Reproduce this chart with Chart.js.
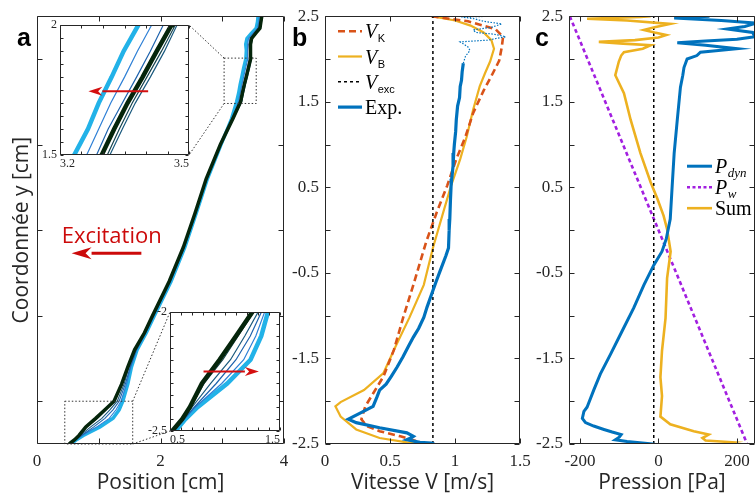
<!DOCTYPE html>
<html>
<head>
<meta charset="utf-8">
<script src="https://cdn.jsdelivr.net/npm/chart.js@4"></script>
<style>
  html, body { margin: 0; padding: 0; background: #fff; }
  #fig { position: relative; width: 756px; height: 499px; overflow: hidden; }
  #fig canvas { position: absolute; }
</style>
</head>
<body>
<div id="fig"></div>
<script>
// ---------- panel a : profiles y -> x (cm)
const yA = [-2.5, -2.45, -2.4, -2.3, -2.2, -2.1, -2.0, -1.8, -1.6, -1.4, -1.2, -1.0, -0.6, -0.2, 0.2, 0.6, 1.0, 1.3,
  1.5, 1.6, 1.7, 1.8, 1.9, 2.0, 2.1, 2.17, 2.24, 2.3, 2.36, 2.43, 2.5];
const xDark = [0.52, 0.61, 0.68, 0.79, 0.95, 1.10, 1.247, 1.37, 1.47, 1.58, 1.74, 1.87, 2.14, 2.37, 2.56, 2.74, 2.97, 3.17,
  3.297, 3.326, 3.357, 3.392, 3.425, 3.459, 3.46, 3.455, 3.475, 3.54, 3.61, 3.625, 3.64];
const xMid1 = [0.52, 0.61, 0.69, 0.81, 0.98, 1.12, 1.26, 1.38, 1.48, 1.59, 1.745, 1.875, 2.145, 2.375, 2.56, 2.74, 2.97, 3.175,
  3.31, 3.338, 3.368, 3.402, 3.436, 3.468, 3.47, 3.462, 3.48, 3.545, 3.615, 3.63, 3.645];
const xMid2 = [0.53, 0.62, 0.70, 0.87, 1.05, 1.18, 1.30, 1.41, 1.49, 1.60, 1.75, 1.88, 2.15, 2.38, 2.565, 2.745, 2.975, 3.18,
  3.316, 3.345, 3.375, 3.41, 3.443, 3.472, 3.475, 3.468, 3.485, 3.55, 3.62, 3.635, 3.65];
const xMid3 = [0.53, 0.63, 0.72, 0.92, 1.10, 1.23, 1.33, 1.43, 1.51, 1.61, 1.76, 1.89, 2.16, 2.385, 2.57, 2.75, 2.97, 3.16,
  3.285, 3.312, 3.345, 3.378, 3.41, 3.44, 3.44, 3.43, 3.45, 3.52, 3.59, 3.61, 3.625];
const xMid4 = [0.54, 0.63, 0.73, 0.97, 1.17, 1.28, 1.36, 1.45, 1.52, 1.615, 1.765, 1.895, 2.165, 2.39, 2.575, 2.755, 2.975, 3.155,
  3.262, 3.29, 3.318, 3.35, 3.38, 3.413, 3.415, 3.405, 3.425, 3.495, 3.57, 3.59, 3.60];
const xLight = [0.55, 0.64, 0.75, 1.02, 1.232, 1.33, 1.39, 1.47, 1.53, 1.62, 1.77, 1.90, 2.17, 2.395, 2.58, 2.76, 2.98, 3.15,
  3.233, 3.265, 3.29, 3.32, 3.348, 3.382, 3.39, 3.38, 3.40, 3.47, 3.55, 3.57, 3.58];

const xTicksA = [0, 1, 2, 3, 4];
const xLabelsA = ['0', '', '2', '', '4'];
const yTicksA = [-2, -1, 0, 1, 2];
const yLabelsA = ['', '', '', '', ''];

// insets of panel a
const xTicksTop = [3.2, 3.25, 3.3, 3.35, 3.4, 3.45, 3.5];
const xLabelsTop = ['3.2', '', '', '', '', '', '3.5'];
const yTicksTop = [1.5, 1.55, 1.6, 1.65, 1.7, 1.75, 1.8, 1.85, 1.9, 1.95, 2.0];
const yLabelsTop = ['1.5', '', '', '', '', '', '', '', '', '', '2'];
const xTicksLow = [0.5, 0.6, 0.7, 0.8, 0.9, 1.0, 1.1, 1.2, 1.3, 1.4, 1.5];
const xLabelsLow = ['0.5', '', '', '', '', '', '', '', '', '', '1.5'];
const yTicksLow = [-2.5, -2.45, -2.4, -2.35, -2.3, -2.25, -2.2, -2.15, -2.1, -2.05, -2.0];
const yLabelsLow = ['-2.5', '', '', '', '', '', '', '', '', '', '-2'];

// ---------- panel b : velocity (m/s)
const yK = [2.5, 2.44, 2.35, 2.26, 2.14, 1.98, 1.83, 1.63, 1.37, 1.09, 0.83, 0.52, 0.21, -0.13, -0.25, -0.64, -1.03, -1.40,
  -1.71, -1.91, -2.06, -2.21, -2.29, -2.35, -2.41, -2.48, -2.5];
const vK = [0.82, 1.10, 1.31, 1.37, 1.36, 1.34, 1.29, 1.22, 1.14, 1.08, 1.01, 0.94, 0.86, 0.78, 0.756, 0.68, 0.60, 0.53,
  0.45, 0.37, 0.31, 0.28, 0.32, 0.42, 0.58, 0.73, 0.78];
const yB = [2.5, 2.45, 2.39, 2.31, 2.22, 2.12, 1.97, 1.83, 1.68, 1.41, 1.09, 0.83, 0.52, 0.21, -0.21, -0.64, -1.02, -1.37,
  -1.67, -1.87, -2.01, -2.06, -2.18, -2.33, -2.43, -2.48, -2.5];
const vB = [0.82, 1.0, 1.12, 1.22, 1.28, 1.30, 1.27, 1.23, 1.19, 1.14, 1.09, 1.04, 0.97, 0.91, 0.83, 0.76, 0.65, 0.54,
  0.45, 0.30, 0.12, 0.08, 0.12, 0.24, 0.42, 0.63, 0.78];
const yExp = [1.95, 1.85, 1.75, 1.68, 1.55, 1.45, 1.29, 1.15, 1.0, 0.9, 0.75, 0.6, 0.52, 0.35, 0.13, 0.0, -0.21, -0.3,
  -0.48, -0.6, -0.75, -0.9, -1.02, -1.15, -1.25, -1.35, -1.48, -1.6, -1.71, -1.8, -1.87, -1.95, -2.06, -2.14, -2.21,
  -2.25, -2.31, -2.37, -2.41, -2.43, -2.45, -2.48, -2.49, -2.5];
const vExp = [1.064, 1.055, 1.05, 1.04, 1.035, 1.02, 1.01, 1.005, 0.995, 0.99, 0.985, 0.975, 0.97, 0.965, 0.96, 0.955,
  0.95, 0.93, 0.885, 0.855, 0.82, 0.785, 0.76, 0.72, 0.68, 0.645, 0.60, 0.555, 0.51, 0.47, 0.42, 0.40, 0.37, 0.27, 0.18,
  0.24, 0.42, 0.63, 0.68, 0.66, 0.63, 0.73, 0.82, 0.84];
const yExpTop = [1.95, 2.03, 2.10, 2.14, 2.18, 2.20, 2.22, 2.26, 2.29, 2.31, 2.34, 2.37, 2.41, 2.44, 2.47, 2.49, 2.5];
const vExpTop = [1.064, 1.08, 1.115, 1.10, 1.06, 1.04, 1.25, 1.39, 1.30, 1.16, 1.14, 1.28, 1.36, 1.22, 1.15, 1.05, 1.30];
const vExc = 0.83;

const xTicksB = [0, 0.5, 1, 1.5];
const xLabelsB = ['0', '0.5', '1', '1.5'];
const yTicksBC = [-2.5, -2, -1.5, -1, -0.5, 0, 0.5, 1, 1.5, 2, 2.5];
const yLabelsBC = ['-2.5', '', '-1.5', '', '-0.5', '', '0.5', '', '1.5', '', '2.5'];

// ---------- panel c : pressure (Pa)
const yDyn = [-2.5, -2.49, -2.47, -2.45, -2.42, -2.39, -2.36, -2.33, -2.29, -2.25, -2.2, -2.12, -2.07, -1.87, -1.68, -1.45,
  -1.22, -0.91, -0.64, -0.41, -0.25, -0.1, 0.13, 0.52, 0.9, 1.29, 1.67, 1.81, 1.9, 2.0, 2.04, 2.08, 2.12, 2.16, 2.19,
  2.21, 2.23, 2.26, 2.31, 2.35, 2.38, 2.42, 2.45, 2.48, 2.5];
const pDyn = [-50, -37, -80, -110, -100, -95, -118, -139, -165, -186, -194, -190, -182, -165, -148, -122,
  -97, -63, -37, -12, 9, 20, 30, 35, 40, 48, 56, 62, 65, 73, 98, 107, 200, 120, 48,
  120, 200, 245, 240, 175, 220, 250, 160, 40, 130];
const ySum = [-2.49, -2.48, -2.46, -2.43, -2.39, -2.35, -2.27, -2.18, -1.94, -1.72, -1.41, -1.03, -0.56, -0.25, 0.01, 0.17,
  0.37, 0.56, 0.9, 1.29, 1.6, 1.81, 1.97, 2.04, 2.08, 2.12, 2.16, 2.18, 2.2, 2.22, 2.25, 2.28, 2.31, 2.34, 2.37, 2.41,
  2.45, 2.47, 2.49, 2.5];
const pSum = [175, 188, 120, 112, 128, 90, 30, 5, 9, 5, 9, 18, 22, 31, 22, 13,
  -3, -20, -46, -71, -88, -110, -101, -95, -88, -40, -20, -90, -152, -60, 0, 20, -10, -37, -10, 30,
  -80, -182, -46, -20];
const yPw = [2.5, 0, -2.5];
const pPw = [-226, 0, 226];
const pRef = -12;

const xTicksC = [-200, 0, 200];
const xLabelsC = ['-200', '0', '200'];

// ---------- helpers
const ink = '#262626';
const serif = s => ({ family: "'Liberation Serif', 'DejaVu Serif', serif", size: s });
const sans = s => ({ family: "'Open Sans', 'DejaVu Sans', sans-serif", size: s });
const pts = (xs, ys) => xs.map((x, i) => ({ x, y: ys[i] }));
const line = (data, color, width, dash) => ({
  data, borderColor: color, borderWidth: width, borderDash: dash || [],
  showLine: true, pointRadius: 0, fill: false
});
const fig = document.getElementById('fig');

// MATLAB style box with inward ticks
const frame = {
  id: 'frame',
  defaults: { len: 5, color: ink },
  afterDatasetsDraw(chart, args, o) {
    const { ctx, chartArea: a, scales: { x, y } } = chart;
    const L = Math.round(a.left) + 0.5, R = Math.round(a.right) - 0.5;
    const T = Math.round(a.top) + 0.5, B = Math.round(a.bottom) - 0.5;
    ctx.save();
    ctx.setLineDash([]);
    ctx.strokeStyle = o.color;
    ctx.lineWidth = 1;
    ctx.beginPath();
    ctx.rect(L, T, R - L, B - T);
    x.ticks.forEach(t => {
      const p = Math.round(x.getPixelForValue(t.value)) + 0.5;
      ctx.moveTo(p, B); ctx.lineTo(p, B - o.len);
      ctx.moveTo(p, T); ctx.lineTo(p, T + o.len);
    });
    y.ticks.forEach(t => {
      const p = Math.round(y.getPixelForValue(t.value)) + 0.5;
      ctx.moveTo(L, p); ctx.lineTo(L + o.len, p);
      ctx.moveTo(R, p); ctx.lineTo(R - o.len, p);
    });
    ctx.stroke();
    ctx.restore();
  }
};

const whiteBg = {
  id: 'whiteBg',
  beforeDraw(chart) {
    const { ctx, chartArea: a } = chart;
    ctx.save();
    ctx.fillStyle = '#fff';
    ctx.fillRect(a.left, a.top, a.right - a.left, a.bottom - a.top);
    ctx.restore();
  }
};

function axis(min, max, vals, labels, fontSize, pad, extra, align) {
  return Object.assign({
    type: 'linear', min, max,
    afterBuildTicks: s => { s.ticks = vals.map(v => ({ value: v })); },
    grid: { display: false, drawTicks: false },
    border: { display: false },
    ticks: {
      autoSkip: false, maxRotation: 0, padding: pad, color: ink, align: align || 'center',
      font: serif(fontSize), callback: (v, i) => labels[i]
    }
  }, extra);
}

// box = chart area in page pixels
function makeChart(box, yW, xH, padTop, padRight, datasets, scales, plugins, frameLen) {
  const c = document.createElement('canvas');
  const w = box.r - box.l + yW + padRight, h = box.b - box.t + padTop + xH;
  c.width = w; c.height = h;
  c.style.left = (box.l - yW) + 'px';
  c.style.top = (box.t - padTop) + 'px';
  fig.appendChild(c);
  scales.y.afterFit = s => { s.width = yW; };
  scales.x.afterFit = s => { s.height = xH; };
  return new Chart(c, {
    type: 'scatter',
    data: { datasets },
    options: {
      responsive: false, animation: false, devicePixelRatio: 1,
      layout: { padding: { top: padTop, right: padRight, left: 0, bottom: 0 } },
      scales,
      plugins: { legend: { display: false }, tooltip: { enabled: false }, frame: { len: frameLen } }
    },
    plugins: [frame].concat(plugins)
  });
}

function arrow(ctx, x1, y1, x2, y2, lw, head, half) {
  const ang = Math.atan2(y2 - y1, x2 - x1);
  const bx = x2 - head * Math.cos(ang), by = y2 - head * Math.sin(ang);
  ctx.beginPath();
  ctx.lineWidth = lw;
  ctx.moveTo(x1, y1); ctx.lineTo(bx, by); ctx.stroke();
  ctx.beginPath();
  ctx.moveTo(x2, y2);
  ctx.lineTo(bx - half * Math.sin(ang), by + half * Math.cos(ang));
  ctx.lineTo(bx + head * 0.3 * Math.cos(ang), by + head * 0.3 * Math.sin(ang));
  ctx.lineTo(bx + half * Math.sin(ang), by - half * Math.cos(ang));
  ctx.closePath(); ctx.fill();
}

function letter(txt, dx) {
  return {
    id: 'letter_' + txt,
    afterDraw(chart) {
      const { ctx, chartArea: a } = chart;
      ctx.save();
      ctx.font = "bold 25px 'Liberation Sans', Arial, sans-serif";
      ctx.fillStyle = '#000';
      ctx.textBaseline = 'alphabetic';
      ctx.fillText(txt, a.left + dx, a.top + 30);
      ctx.restore();
    }
  };
}

function legendPlugin(id, items, dx, dy, step, len) {
  return {
    id,
    afterDraw(chart) {
      const { ctx, chartArea: a } = chart;
      ctx.save();
      items.forEach((it, i) => {
        const y = a.top + dy + i * step, x = a.left + dx;
        ctx.beginPath();
        ctx.setLineDash(it.dash || []);
        ctx.lineWidth = it.width;
        ctx.strokeStyle = it.color;
        ctx.moveTo(x, y); ctx.lineTo(x + len, y); ctx.stroke();
        ctx.setLineDash([]);
        ctx.fillStyle = '#000';
        ctx.textBaseline = 'alphabetic';
        ctx.font = it.font;
        ctx.fillText(it.text, x + len + 3, y + 7);
        if (it.sub) {
          const w = ctx.measureText(it.text).width;
          ctx.font = it.subFont;
          ctx.fillText(it.sub, x + len + 3 + w + 0.5, y + 11);
        }
      });
      ctx.restore();
    }
  };
}

// ---------- layout (page pixels)
const boxA = { l: 37, t: 12, r: 284, b: 444 };
const boxB = { l: 325, t: 12, r: 520, b: 444 };
const boxC = { l: 569, t: 12, r: 755, b: 444 };
const boxTop = { l: 60, t: 25, r: 189, b: 155 };
const boxLow = { l: 170, t: 312, r: 280, b: 431 };

// zoom rectangles in panel a data coordinates
const zoomTop = { x0: 3.03, x1: 3.55, y0: 1.48, y1: 2.01 };
const zoomLow = { x0: 0.45, x1: 1.55, y0: -2.5, y1: -2.0 };

function profiles(thick, thin) {
  return [
    line(pts(xDark, yA), '#05250b', thick),
    line(pts(xMid1, yA), '#17454f', thin),
    line(pts(xMid2, yA), '#1b5a7e', thin),
    line(pts(xMid3, yA), '#1f63ad', thin),
    line(pts(xMid4, yA), '#2f80d6', thin),
    line(pts(xLight, yA), '#22b2e8', thick)
  ];
}

const annotA = {
  id: 'annotA',
  afterDraw(chart) {
    const { ctx, scales: { x, y } } = chart;
    const X = v => x.getPixelForValue(v), Y = v => y.getPixelForValue(v);
    ctx.save();
    ctx.strokeStyle = '#333';
    ctx.lineWidth = 1;
    ctx.setLineDash([1.5, 2]);
    [zoomTop, zoomLow].forEach(z => {
      ctx.strokeRect(X(z.x0), Y(z.y1), X(z.x1) - X(z.x0), Y(z.y0) - Y(z.y1));
    });
    ctx.beginPath();
    ctx.moveTo(X(zoomTop.x0), Y(zoomTop.y1)); ctx.lineTo(boxTop.r, boxTop.t);
    ctx.moveTo(X(zoomTop.x0), Y(zoomTop.y0)); ctx.lineTo(boxTop.r, boxTop.b);
    ctx.moveTo(X(zoomLow.x1), Y(zoomLow.y1)); ctx.lineTo(boxLow.l, boxLow.t);
    ctx.moveTo(X(zoomLow.x1), Y(zoomLow.y0)); ctx.lineTo(boxLow.l, boxLow.b);
    ctx.stroke();
    ctx.setLineDash([]);
    ctx.fillStyle = '#cc0a0a';
    ctx.strokeStyle = '#cc0a0a';
    ctx.font = "22px 'Open Sans', sans-serif";
    ctx.textBaseline = 'middle';
    ctx.fillText('Excitation', X(0.40), Y(-0.075));
    arrow(ctx, X(1.69), Y(-0.27), X(0.56), Y(-0.27), 3, 20, 6);
    ctx.restore();
  }
};

function insetArrow(x1, x2, yv) {
  return {
    id: 'insetArrow',
    afterDraw(chart) {
      const { ctx, scales: { x, y } } = chart;
      ctx.save();
      ctx.fillStyle = '#d40f0f';
      ctx.strokeStyle = '#d40f0f';
      arrow(ctx, x.getPixelForValue(x1), y.getPixelForValue(yv), x.getPixelForValue(x2), y.getPixelForValue(yv), 2, 14, 4.5);
      ctx.restore();
    }
  };
}

const titleFont = sans(21);

// ---------- panel a
makeChart(boxA, 37, 55, 12, 14, profiles(3.5, 1.1), {
  x: axis(0, 4, xTicksA, xLabelsA, 17, 7, {
    title: { display: true, text: 'Position [cm]', font: titleFont, color: ink, padding: { top: 0, bottom: 3 } }
  }),
  y: axis(-2.5, 2.5, yTicksA, yLabelsA, 17, 6, {
    title: { display: true, text: 'Coordonnée y [cm]', font: titleFont, color: ink, padding: { top: 9, bottom: 0 } }
  })
}, [annotA, letter('a', -20)], 5);

// ---------- panel b
makeChart(boxB, 42, 55, 12, 22, [
  line(pts(vExp, yExp), '#0072bd', 3.2),
  line(pts(vExpTop, yExpTop), '#0072bd', 1.2, [1.5, 1.5]),
  line([{ x: vExc, y: -2.5 }, { x: vExc, y: 2.5 }], '#000', 1.5, [3, 3]),
  line(pts(vK, yK), '#d95319', 2.6, [7, 4]),
  line(pts(vB, yB), '#edb120', 2.2)
], {
  x: axis(0, 1.5, xTicksB, xLabelsB, 17, 7, {
    title: { display: true, text: 'Vitesse V [m/s]', font: titleFont, color: ink, padding: { top: 0, bottom: 3 } }
  }),
  y: axis(-2.5, 2.5, yTicksBC, yLabelsBC, 17, 6, {})
}, [letter('b', -33), legendPlugin('legB', [
  { text: 'V', sub: 'K', font: "italic 20px 'Liberation Serif', serif", subFont: "11px 'Liberation Sans', sans-serif", color: '#d95319', width: 2.6, dash: [7, 4] },
  { text: 'V', sub: 'B', font: "italic 20px 'Liberation Serif', serif", subFont: "11px 'Liberation Sans', sans-serif", color: '#edb120', width: 2.2 },
  { text: 'V', sub: 'exc', font: "italic 20px 'Liberation Serif', serif", subFont: "11px 'Liberation Sans', sans-serif", color: '#000', width: 1.5, dash: [3, 3] },
  { text: 'Exp.', font: "20px 'Liberation Serif', serif", color: '#0072bd', width: 3.2 }
], 13, 15, 25.3, 24)], 5);

// ---------- panel c
makeChart(boxC, 44, 55, 12, 3, [
  line(pts(pDyn, yDyn), '#0072bd', 3),
  line(pts(pSum, ySum), '#edb120', 2.6),
  line([{ x: pRef, y: -2.5 }, { x: pRef, y: 2.5 }], '#000', 1.5, [3, 3]),
  line(pts(pPw, yPw), '#a21fe0', 2.6, [4, 3])
], {
  x: axis(-228, 246, xTicksC, xLabelsC, 17, 7, {
    title: { display: true, text: 'Pression [Pa]', font: titleFont, color: ink, padding: { top: 0, bottom: 3 } }
  }),
  y: axis(-2.5, 2.5, yTicksBC, yLabelsBC, 17, 6, {})
}, [letter('c', -34), legendPlugin('legC', [
  { text: 'P', sub: 'dyn', font: "italic 20px 'Liberation Serif', serif", subFont: "italic 13px 'Liberation Serif', serif", color: '#0072bd', width: 3 },
  { text: 'P', sub: 'w', font: "italic 20px 'Liberation Serif', serif", subFont: "italic 13px 'Liberation Serif', serif", color: '#a21fe0', width: 2.6, dash: [3, 2.5] },
  { text: 'Sum', font: "20px 'Liberation Serif', serif", color: '#edb120', width: 2.6 }
], 118, 150, 21, 25)], 5);

// ---------- insets of panel a
makeChart(boxTop, 30, 22, 10, 10, profiles(4.5, 1.2), {
  x: axis(3.2, 3.5, xTicksTop, xLabelsTop, 12, 2, {}, 'inner'),
  y: axis(1.5, 2.0, yTicksTop, yLabelsTop, 12, 3, {})
}, [whiteBg, insetArrow(3.405, 3.266, 1.746)], 3);

makeChart(boxLow, 30, 22, 10, 10, profiles(4.5, 1.2), {
  x: axis(0.5, 1.5, xTicksLow, xLabelsLow, 12, 2, {}, 'inner'),
  y: axis(-2.5, -2.0, yTicksLow, yLabelsLow, 12, 3, {})
}, [whiteBg, insetArrow(0.805, 1.308, -2.25)], 3);
</script>
</body>
</html>
